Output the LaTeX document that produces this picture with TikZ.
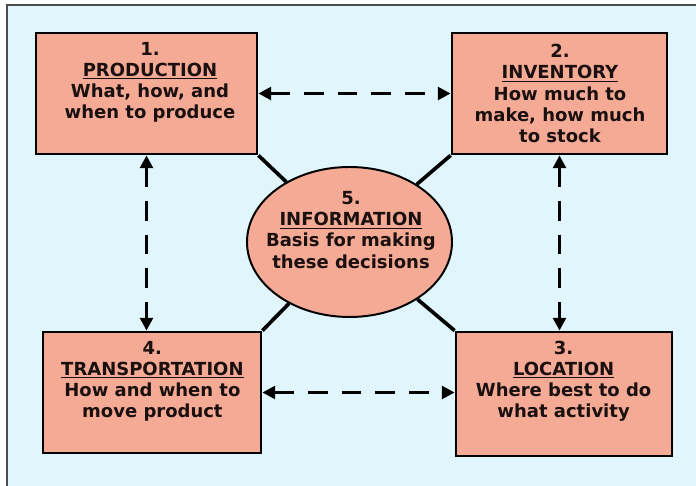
\documentclass[tikz,border=0pt]{standalone}
\usepackage{fontspec}
\setmainfont{DejaVu Sans}
\usetikzlibrary{arrows.meta,shapes.geometric}

\definecolor{skyback}{HTML}{E0F6FC}
\definecolor{salmon}{HTML}{F4AA94}
\definecolor{inkdark}{HTML}{1A1010}

\tikzset{
    decision/.style={rectangle, draw=black, line width=2pt, fill=salmon},
    hub/.style={ellipse, draw=black, line width=1.4pt, fill=salmon, minimum width=5.125cm, minimum height=3.75cm},
    caption/.style={align=center, font=\bfseries\fontsize{12.8}{15}\selectfont, text=inkdark},
    spoke/.style={line width=2.6pt},
    flow/.style={line width=2.4pt, dash pattern=on 14pt off 10pt, {Triangle[length=9pt,width=9pt]}-{Triangle[length=9pt,width=9pt]}}
}

\begin{document}
\begin{tikzpicture}
    \useasboundingbox (0, 0) rectangle (17.4, 12.15);
    % backdrop with its frame on the top and left
    \fill[skyback] (0.175, 0) rectangle (17.4, 12.025);
    \draw[gray!60!black, line width=0.8pt] (0.175, 0) -- (0.175, 12.025) -- (17.4, 12.025);

    % the five decision areas
    \node[decision, minimum width=5.525cm, minimum height=3.025cm] (prod) at (3.6625, 9.8125) {};
    \node[decision, minimum width=5.375cm, minimum height=3.025cm] (inv) at (13.9875, 9.8125) {};
    \node[decision, minimum width=5.4cm, minimum height=3.1cm] (loc) at (14.1, 2.3) {};
    \node[decision, minimum width=5.45cm, minimum height=3.025cm] (trans) at (3.8, 2.3375) {};
    \node[hub] (info) at (8.7375, 6.1) {};

    \draw[spoke] (info) -- (prod.south east);
    \draw[spoke] (info) -- (inv.south west);
    \draw[spoke] (info) -- (loc.north west);
    \draw[spoke] (info) -- (trans.north east);

    \node[caption] (prodtxt) at (3.75, 10.1) {1.\\\underline{PRODUCTION}\\What, how, and\\when to produce};
    \node[caption] (invtxt) at (14.0, 9.8125) {2.\\\underline{INVENTORY}\\How much to\\make, how much\\to stock};
    \node[caption] (loctxt) at (14.09, 2.625) {3.\\\underline{LOCATION}\\Where best to do\\what activity};
    \node[caption] (transtxt) at (3.81, 2.625) {4.\\\underline{TRANSPORTATION}\\How and when to\\move product};
    \node[caption] (infotxt) at (8.775, 6.4) {5.\\\underline{INFORMATION}\\Basis for making\\these decisions};

    % two-way flows between neighbours
    \draw[flow] (prod) -- (inv);
    \draw[flow] (prod.south) -- (prod.south |- trans.north);
    \draw[flow] (inv.south) -- (inv.south |- loc.north);
    \draw[flow] (trans.east) -- (trans.east -| loc.west);
\end{tikzpicture}
\end{document}
